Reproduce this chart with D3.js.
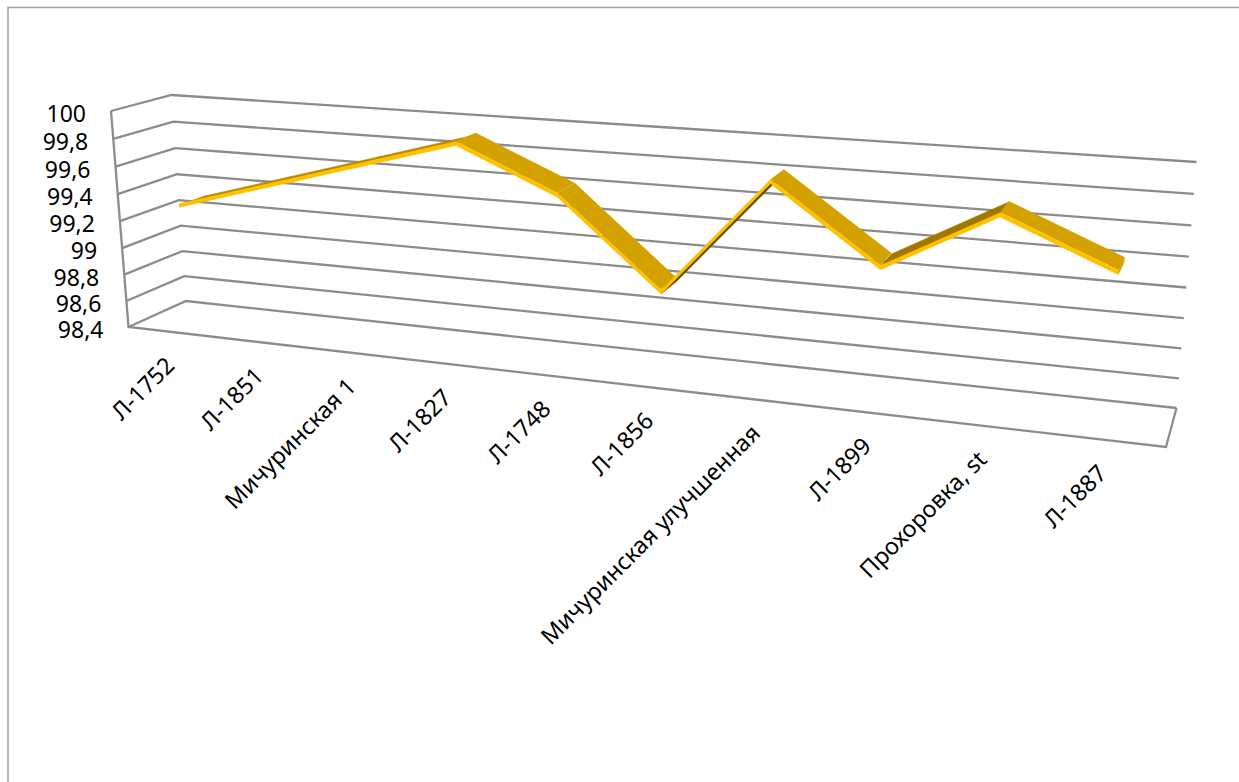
<!DOCTYPE html>
<html><head><meta charset="utf-8">
<script src="https://cdn.jsdelivr.net/npm/d3@7"></script>
<style>html,body{margin:0;padding:0;background:#fff}svg{display:block}text{font-family:"Noto Sans",sans-serif;fill:#000}</style>
</head><body><div id="c"></div>
<script>
const categories = ["Л-1752","Л-1851","Мичуринская 1","Л-1827","Л-1748","Л-1856","Мичуринская улучшенная","Л-1899","Прохоровка, st","Л-1887"];
const seriesValues = [99.3,99.5,99.7,99.9,99.6,99.0,99.8,99.3,99.7,99.4];
const tickValues = [98.4,98.6,98.8,99,99.2,99.4,99.6,99.8,100];
const tickLabels = ["98,4","98,6","98,8","99","99,2","99,4","99,6","99,8","100"];

const W=1239,H=782;
const svg=d3.select("#c").append("svg").attr("width",W).attr("height",H);
const GRID="#8c8c8c";
const box={fl0:[128.5,327],fr0:[1166,447],fl1:[111,111],fr1:[1185.5,187],
           bl0:[186,301],br0:[1176.5,408],bl1:[171.5,95],br1:[1196.5,162]};
const persp=a=>s=>s*a/(1+(a-1)*s);
const warpU=persp(0.83), warpT=persp(0.96);
const lerp=(a,b,s)=>[a[0]+(b[0]-a[0])*s,a[1]+(b[1]-a[1])*s];
const xScale=d3.scaleBand().domain(d3.range(categories.length)).range([0,1]);
const yScale=d3.scaleLinear().domain([98.4,100]).range([0,1]);
function pr(u,t,d){
  const uu=warpU(u), tt=warpT(t);
  const f=lerp(lerp(box.fl0,box.fr0,uu),lerp(box.fl1,box.fr1,uu),tt);
  const b=lerp(lerp(box.bl0,box.br0,uu),lerp(box.bl1,box.br1,uu),tt);
  return lerp(f,b,d);
}
const at=(i,v,d)=>pr(xScale(i)+xScale.bandwidth()/2,yScale(v),d);
const line=d3.line();

svg.append("path").attr("d",line([[8,782],[8,7.5],[1239,7.5]])).attr("fill","none").attr("stroke","#a0a0a0").attr("stroke-width",1.5);

const g=svg.append("g").attr("fill","none").attr("stroke",GRID).attr("stroke-width",2.3);
tickValues.forEach(v=>{
  g.append("path").attr("d",line([pr(0,yScale(v),0),pr(0,yScale(v),1),pr(1,yScale(v),1)]));
});
g.append("path").attr("d",line([pr(0,1,0),pr(0,0,0),pr(1,0,0),pr(1,0,1)]));

// ribbon: face from depth d1 to d2, front strip on the d1 edge
const d1=0.28,d2=0.72,low=-0.012,high=0.018;
const riseColor=d3.scaleLinear().domain([0.27,0.44,1.03]).range(["#b58900","#a07800","#5f4a00"]).clamp(true);
const riseBack=d3.scaleLinear().domain([0.27,0.44,1.03]).range([0.004,0.012,low]).clamp(true);
const segs=d3.range(categories.length-1).map(i=>{
  const rising=seriesValues[i+1]>seriesValues[i];
  const p0=at(i,seriesValues[i],d1),p1=at(i+1,seriesValues[i+1],d1);
  const slope=Math.abs((p1[1]-p0[1])/(p1[0]-p0[0]));
  const off=rising?riseBack(slope):high;
  const v0=seriesValues[i]+off,v1=seriesValues[i+1]+off;
  const a=at(i,v0,d1),b=at(i+1,v1,d1),c=at(i+1,v1,d2),e=at(i,v0,d2);
  return {i,poly:[a,b,c,e],rising,slope};
});
const rib=svg.append("g");
rib.selectAll("path.r").data(segs.filter(s=>s.rising)).join("path").attr("class","r")
  .attr("d",s=>line(s.poly)+"Z").attr("fill",s=>riseColor(s.slope)).attr("stroke",s=>riseColor(s.slope)).attr("stroke-width",0.5);
rib.selectAll("path.f").data(segs.filter(s=>!s.rising)).join("path").attr("class","f")
  .attr("d",s=>line(s.poly)+"Z").attr("fill","#d4a200");
const frontTop=seriesValues.map((v,i)=>at(i,v+high,d1));
const frontBot=seriesValues.map((v,i)=>at(i,v+low,d1));
rib.append("path").attr("d",line(frontTop.concat(frontBot.slice().reverse()))+"Z").attr("fill","#ffc000");
const last=categories.length-1, vL=seriesValues[last];
rib.append("path").attr("d",line([at(last,vL+high,d1),at(last,vL+high,d2),at(last,vL+low,d2),at(last,vL+low,d1)])+"Z").attr("fill","#d4a200");

svg.append("g").selectAll("text").data(tickValues).join("text")
  .attr("x",v=>pr(0,yScale(v),0)[0]-25).attr("y",v=>pr(0,yScale(v),0)[1]+11)
  .attr("text-anchor","end").attr("font-size",23).text((v,i)=>tickLabels[i]);
svg.append("g").selectAll("text").data(categories).join("text")
  .attr("text-anchor","end").attr("font-size",23.3)
  .attr("transform",(c,i)=>{const p=at(i,98.4,0);return `translate(${p[0]+4},${p[1]+35}) rotate(-45)`;})
  .text(c=>c);
</script></body></html>
